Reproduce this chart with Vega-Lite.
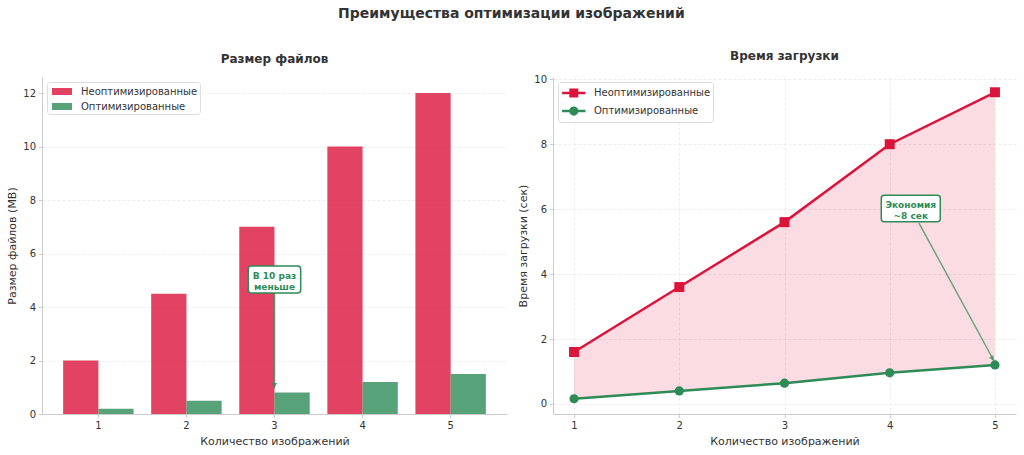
{
  "$schema": "https://vega.github.io/schema/vega-lite/v6.json",
  "autosize": {"type": "pad"},
  "padding": {"left": 6, "top": 7, "right": 5, "bottom": 5},
  "background": "white",
  "title": {"text": "Преимущества оптимизации изображений", "fontSize": 14, "fontWeight": "bold", "anchor": "middle", "offset": 29, "color": "#333333"},
  "bounds": "flush",
  "spacing": 46,
  "resolve": {"legend": {"color": "independent", "shape": "independent"}},
  "datasets": {
    "files": [
      {"n": 1, "series": "Неоптимизированные", "size": 2},
      {"n": 2, "series": "Неоптимизированные", "size": 4.5},
      {"n": 3, "series": "Неоптимизированные", "size": 7},
      {"n": 4, "series": "Неоптимизированные", "size": 10},
      {"n": 5, "series": "Неоптимизированные", "size": 12},
      {"n": 1, "series": "Оптимизированные", "size": 0.2},
      {"n": 2, "series": "Оптимизированные", "size": 0.5},
      {"n": 3, "series": "Оптимизированные", "size": 0.8},
      {"n": 4, "series": "Оптимизированные", "size": 1.2},
      {"n": 5, "series": "Оптимизированные", "size": 1.5}
    ],
    "load": [
      {"n": 1, "series": "Неоптимизированные", "t": 1.6},
      {"n": 2, "series": "Неоптимизированные", "t": 3.6},
      {"n": 3, "series": "Неоптимизированные", "t": 5.6},
      {"n": 4, "series": "Неоптимизированные", "t": 8.0},
      {"n": 5, "series": "Неоптимизированные", "t": 9.6},
      {"n": 1, "series": "Оптимизированные", "t": 0.16},
      {"n": 2, "series": "Оптимизированные", "t": 0.4},
      {"n": 3, "series": "Оптимизированные", "t": 0.64},
      {"n": 4, "series": "Оптимизированные", "t": 0.96},
      {"n": 5, "series": "Оптимизированные", "t": 1.2}
    ],
    "loadWide": [
      {"n": 1, "un": 1.6, "op": 0.16},
      {"n": 2, "un": 3.6, "op": 0.4},
      {"n": 3, "un": 5.6, "op": 0.64},
      {"n": 4, "un": 8.0, "op": 0.96},
      {"n": 5, "un": 9.6, "op": 1.2}
    ],
    "noteL": [{"n": 3, "y": 5.03, "y1": 4.52, "y2": 0.95, "head": 1.07, "label": "В 10 раз\nменьше"}],
    "noteR": [{"x": 4.2, "y": 6.02, "x1": 4.278, "y1": 5.57, "x2": 4.99, "y2": 1.33, "hx": 4.975, "hy": 1.4, "label": "Экономия\n~8 сек"}]
  },
  "hconcat": [
    {
      "width": 465,
      "height": 337,
      "title": {"text": "Размер файлов", "fontSize": 12, "fontWeight": "bold", "offset": 11, "frame": "group", "color": "#333333"},
      "layer": [
        {
          "data": {"name": "files"},
          "mark": {"type": "bar", "opacity": 0.8},
          "encoding": {
            "x": {"field": "n", "type": "ordinal", "scale": {"paddingInner": 0.2, "paddingOuter": 0.24}, "axis": {"title": "Количество изображений", "labelAngle": 0, "grid": false}},
            "xOffset": {"field": "series", "type": "nominal", "scale": {"domain": ["Неоптимизированные", "Оптимизированные"]}},
            "y": {"field": "size", "type": "quantitative", "scale": {"domain": [0, 12.6], "nice": false}, "axis": {"title": "Размер файлов (MB)", "values": [0, 2, 4, 6, 8, 10, 12], "grid": true}},
            "color": {"field": "series", "type": "nominal", "scale": {"domain": ["Неоптимизированные", "Оптимизированные"], "range": ["#DC143C", "#2E8B57"]},
              "legend": {"title": null, "orient": "top-left", "offset": 5, "padding": 2, "symbolType": "M-0.6,-0.47H2.067V0.47H-0.6Z", "symbolSize": 225, "symbolStrokeWidth": 0, "symbolOpacity": 0.8, "labelOffset": 17, "rowPadding": 2, "fillColor": "white", "strokeColor": "#dddddd", "cornerRadius": 3, "labelFontSize": 10, "labelColor": "#333333"}}
          }
        },
        {
          "data": {"name": "noteL"},
          "mark": {"type": "rule", "color": "#2E8B57", "opacity": 0.75, "strokeWidth": 1.5},
          "encoding": {"x": {"field": "n", "type": "ordinal"}, "y": {"field": "y1", "type": "quantitative"}, "y2": {"field": "y2"}}
        },
        {
          "data": {"name": "noteL"},
          "mark": {"type": "point", "shape": "triangle-down", "filled": true, "color": "#2E8B57", "opacity": 0.8, "size": 28},
          "encoding": {"x": {"field": "n", "type": "ordinal"}, "y": {"field": "head", "type": "quantitative"}}
        },
        {
          "data": {"name": "noteL"},
          "mark": {"type": "point", "shape": "M-0.89,-0.515H0.89Q1,-0.515 1,-0.4V0.4Q1,0.515 0.89,0.515H-0.89Q-1,0.515 -1,0.4V-0.4Q-1,-0.515 -0.89,-0.515Z", "filled": true, "fill": "white", "stroke": "#2E8B57", "strokeWidth": 1.5, "opacity": 1, "size": 2746},
          "encoding": {"x": {"field": "n", "type": "ordinal"}, "y": {"field": "y", "type": "quantitative"}}
        },
        {
          "data": {"name": "noteL"},
          "mark": {"type": "text", "color": "#2E8B57", "fontWeight": "bold", "fontSize": 9, "lineBreak": "\n", "lineHeight": 11, "baseline": "middle", "align": "center", "dy": -3},
          "encoding": {"x": {"field": "n", "type": "ordinal"}, "y": {"field": "y", "type": "quantitative"}, "text": {"field": "label"}}
        }
      ]
    },
    {
      "width": 463,
      "height": 337,
      "title": {"text": "Время загрузки", "fontSize": 12, "fontWeight": "bold", "offset": 11, "frame": "group", "color": "#333333"},
      "layer": [
        {
          "data": {"name": "loadWide"},
          "mark": {"type": "area", "color": "#DC143C", "opacity": 0.15},
          "encoding": {
            "x": {"field": "n", "type": "quantitative", "scale": {"domain": [0.8, 5.2], "nice": false, "zero": false}, "axis": {"title": "Количество изображений", "values": [1, 2, 3, 4, 5], "format": "d", "grid": true}},
            "y": {"field": "un", "type": "quantitative", "scale": {"domain": [-0.31, 10.07], "nice": false, "zero": false}, "axis": {"title": "Время загрузки (сек)", "values": [0, 2, 4, 6, 8, 10], "grid": true}},
            "y2": {"field": "op"}
          }
        },
        {
          "data": {"name": "load"},
          "transform": [{"filter": "datum.series == 'Неоптимизированные'"}],
          "mark": {"type": "line", "strokeWidth": 2.5, "color": "#DC143C"},
          "encoding": {"x": {"field": "n", "type": "quantitative"}, "y": {"field": "t", "type": "quantitative"}}
        },
        {
          "data": {"name": "load"},
          "transform": [{"filter": "datum.series == 'Оптимизированные'"}],
          "mark": {"type": "line", "strokeWidth": 2.5, "color": "#2E8B57"},
          "encoding": {"x": {"field": "n", "type": "quantitative"}, "y": {"field": "t", "type": "quantitative"}}
        },
        {
          "data": {"name": "load"},
          "transform": [{"filter": "datum.series == 'Неоптимизированные'"}],
          "mark": {"type": "point", "shape": "square", "filled": true, "opacity": 1, "size": 100, "color": "#DC143C"},
          "encoding": {"x": {"field": "n", "type": "quantitative"}, "y": {"field": "t", "type": "quantitative"}}
        },
        {
          "data": {"name": "load"},
          "transform": [{"filter": "datum.series == 'Оптимизированные'"}],
          "mark": {"type": "point", "shape": "circle", "filled": true, "opacity": 1, "size": 85, "color": "#2E8B57"},
          "encoding": {"x": {"field": "n", "type": "quantitative"}, "y": {"field": "t", "type": "quantitative"}}
        },
        {
          "data": {"name": "load"},
          "mark": {"type": "point", "filled": true, "opacity": 0},
          "encoding": {
            "x": {"field": "n", "type": "quantitative"},
            "y": {"field": "t", "type": "quantitative"},
            "color": {"field": "series", "type": "nominal",
              "legend": {"title": null, "orient": "top-left", "offset": 5, "padding": 2, "symbolSize": 225, "symbolStrokeWidth": 2.5, "symbolOpacity": 1, "labelOffset": 16, "rowPadding": -7, "fillColor": "white", "strokeColor": "#dddddd", "cornerRadius": 3, "labelFontSize": 10, "labelColor": "#333333",
                "encode": {"symbols": {"update": {"stroke": {"scale": "color", "field": "value"}}}}}},
            "shape": {"field": "series", "type": "nominal",
              "scale": {"domain": ["Неоптимизированные", "Оптимизированные"], "range": ["M-0.92,0H2.2M0.21,-0.43H1.07V0.43H0.21Z", "M-0.92,0H2.2M1.09,0C1.09,0.2485 0.8885,0.45 0.64,0.45C0.3915,0.45 0.19,0.2485 0.19,0C0.19,-0.2485 0.3915,-0.45 0.64,-0.45C0.8885,-0.45 1.09,-0.2485 1.09,0Z"]},
              "legend": {"title": null, "orient": "top-left", "offset": 5, "padding": 2, "symbolSize": 225, "symbolStrokeWidth": 2.5, "symbolOpacity": 1, "labelOffset": 16, "rowPadding": -7, "fillColor": "white", "strokeColor": "#dddddd", "cornerRadius": 3, "labelFontSize": 10, "labelColor": "#333333",
                "encode": {"symbols": {"update": {"stroke": {"scale": "color", "field": "value"}}}}}}
          }
        },
        {
          "data": {"name": "noteR"},
          "mark": {"type": "rule", "color": "#2E8B57", "opacity": 0.7, "strokeWidth": 1.5},
          "encoding": {"x": {"field": "x1", "type": "quantitative"}, "y": {"field": "y1", "type": "quantitative"}, "x2": {"field": "x2"}, "y2": {"field": "y2"}}
        },
        {
          "data": {"name": "noteR"},
          "mark": {"type": "point", "shape": "triangle-down", "filled": true, "color": "#2E8B57", "opacity": 0.75, "size": 28, "angle": -28.6},
          "encoding": {"x": {"field": "hx", "type": "quantitative"}, "y": {"field": "hy", "type": "quantitative"}}
        },
        {
          "data": {"name": "noteR"},
          "mark": {"type": "point", "shape": "M-0.9,-0.45H0.9Q1,-0.45 1,-0.35V0.35Q1,0.45 0.9,0.45H-0.9Q-1,0.45 -1,0.35V-0.35Q-1,-0.45 -0.9,-0.45Z", "filled": true, "fill": "white", "stroke": "#2E8B57", "strokeWidth": 1.5, "opacity": 1, "size": 3481},
          "encoding": {"x": {"field": "x", "type": "quantitative"}, "y": {"field": "y", "type": "quantitative"}}
        },
        {
          "data": {"name": "noteR"},
          "mark": {"type": "text", "color": "#2E8B57", "fontWeight": "bold", "fontSize": 9, "lineBreak": "\n", "lineHeight": 10.5, "baseline": "middle", "align": "center", "dy": -3},
          "encoding": {"x": {"field": "x", "type": "quantitative"}, "y": {"field": "y", "type": "quantitative"}, "text": {"field": "label"}}
        }
      ]
    }
  ],
  "config": {
    "font": "DejaVu Sans",
    "view": {"stroke": null},
    "axis": {"domainColor": "#cccccc", "tickColor": "#cccccc", "tickSize": 3.5, "labelPadding": 3, "labelColor": "#333333", "labelFontSize": 10, "titleColor": "#333333", "titleFontSize": 11, "titleFontWeight": "normal", "titlePadding": 5, "gridColor": "#e8e8e8", "gridDash": [3, 2], "gridWidth": 0.8}
  }
}
